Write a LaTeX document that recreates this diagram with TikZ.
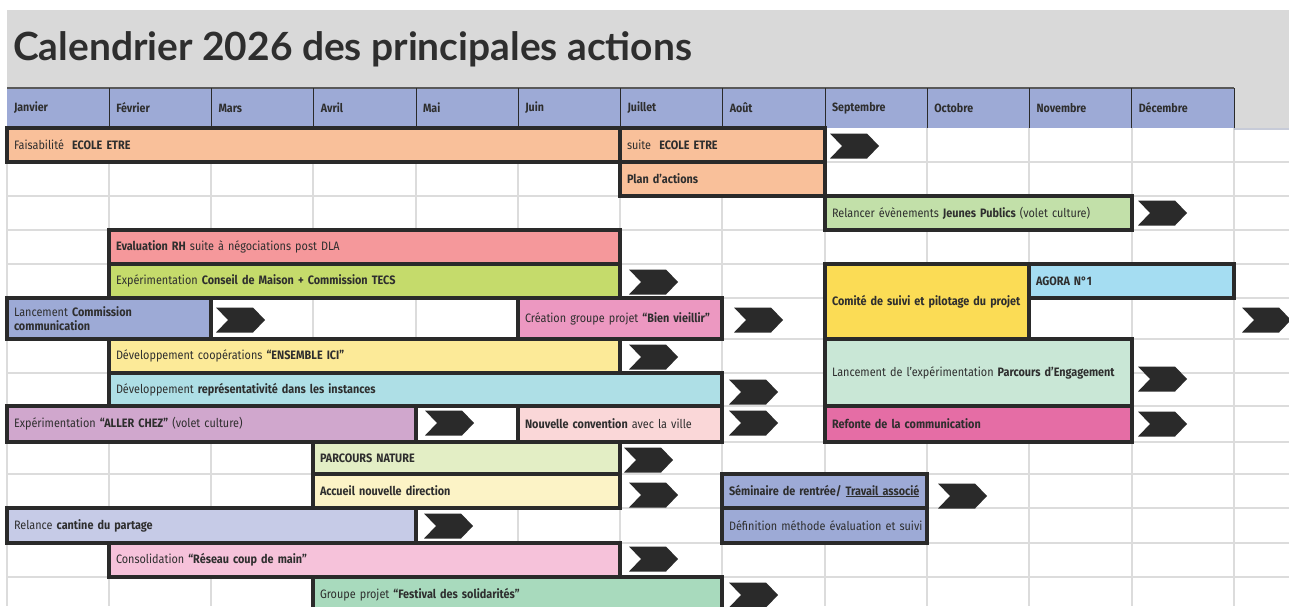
\documentclass[tikz,border=0pt]{standalone}
\usepackage{fontspec}
\setmainfont{Fira Sans}[FakeStretch=0.89]
\newfontfamily\titlefont{Lato}
\definecolor{bordc}{HTML}{2A2A2A}
\definecolor{txtc}{HTML}{2E2E2E}
\definecolor{gridc}{HTML}{DCDCDC}
\definecolor{bandc}{HTML}{D9D9D9}
\definecolor{hdrc}{HTML}{9DAAD6}
\definecolor{cpeach}{HTML}{F9C09A}
\definecolor{clgreen}{HTML}{C2E0A9}
\definecolor{csalmon}{HTML}{F5989B}
\definecolor{clime}{HTML}{C5DB6B}
\definecolor{clav}{HTML}{9DAAD6}
\definecolor{cpinkbv}{HTML}{EC98C1}
\definecolor{cyellow}{HTML}{FBDC55}
\definecolor{cagora}{HTML}{A5DDF2}
\definecolor{clyellow}{HTML}{FCEA98}
\definecolor{ccyan}{HTML}{AEDFE6}
\definecolor{cmint}{HTML}{C9E7D6}
\definecolor{cmauve}{HTML}{D0A7CD}
\definecolor{clpink}{HTML}{FAD7D8}
\definecolor{chot}{HTML}{E56DA5}
\definecolor{cpgreen}{HTML}{E3EEC5}
\definecolor{ccream}{HTML}{FCF3C6}
\definecolor{cllav}{HTML}{C6CBE7}
\definecolor{cpinkc}{HTML}{F6C2DA}
\definecolor{cfest}{HTML}{A8DABD}
\newcommand\gbar[7]{%
  \pgfmathsetmacro\gbW{#4-#2}\pgfmathsetmacro\gbH{#5-#3}\pgfmathsetmacro\gbT{#4-#2-14}%
  \node[barbox, fill=#6, minimum width=\gbW pt, minimum height=\gbH pt, text width=\gbT pt] (#1) at (#2,#3) {#7};}
\tikzset{
  barbox/.style={draw=bordc, line width=3.6pt, anchor=north west, outer sep=0pt, inner xsep=7pt, inner ysep=0pt, align=left, text=txtc, font=\fontsize{12.2}{14}\selectfont},
  hdr/.style={fill=hdrc, anchor=north west, outer sep=0pt, inner xsep=7pt, inner ysep=0pt, minimum width=102.25pt, minimum height=40pt, text width=88.25pt, align=left, text=txtc, font=\fontsize{12}{13}\selectfont\bfseries},
  gridline/.style={draw=gridc, line width=1.3pt},
  chv/.pic={\fill[bordc] (0,-12.5) -- (37,-12.5) -- (49,0) -- (37,12.5) -- (0,12.5) -- (12,0) -- cycle;}
}
\begin{document}
\begin{tikzpicture}[x=1pt,y=-1pt]
\useasboundingbox (0,0) rectangle (1289,606);
\fill[white] (0,0) rectangle (1289,606);
% title band
\fill[bandc] (7,10) rectangle (1289,128);
\node[anchor=base west, inner sep=0pt, text=txtc, font=\titlefont\fontsize{38.9}{42}\selectfont\bfseries] (title) at (13,60) {Calendrier 2026 des principales actions};
% grid
\foreach \gx in {7,109,211,313,416,518,620,722,825,927,1029,1132,1234}
  \draw[gridline] (\gx,128) -- (\gx,606);
\foreach \gy in {162,196,230,264,298,339,373,406,442,474,508,543,577}
  \draw[gridline] (7,\gy) -- (1289,\gy);
\draw[draw=hdrc!60!gray, line width=2pt, opacity=0.5] (1234,129) -- (1289,129);
% header
\node[hdr] (m1) at (7,88) {Janvier};
\node[hdr] (m2) at (109.25,88) {Février};
\node[hdr] (m3) at (211.5,88) {Mars};
\node[hdr] (m4) at (313.75,88) {Avril};
\node[hdr] (m5) at (416,88) {Mai};
\node[hdr] (m6) at (518.25,88) {Juin};
\node[hdr] (m7) at (620.5,88) {Juillet};
\node[hdr] (m8) at (722.75,88) {Août};
\node[hdr] (m9) at (825,88) {Septembre};
\node[hdr] (m10) at (927.25,88) {Octobre};
\node[hdr] (m11) at (1029.5,88) {Novembre};
\node[hdr] (m12) at (1131.75,88) {Décembre};
\draw[draw=gray!70!black, line width=1.5pt] (m1.north west) -- (m12.north east);
\foreach \m in {1,...,12}
  \draw[draw=bordc, line width=1pt] (m\m.north east) -- (m\m.south east);
% bars
\gbar{b1}{7}{128}{620}{162}{cpeach}{Faisabilité\ \ \textbf{ECOLE ETRE}}
\gbar{b2}{620}{128}{825}{162}{cpeach}{suite\ \ \textbf{ECOLE ETRE}}
\gbar{b3}{620}{162}{825}{196}{cpeach}{\textbf{Plan d’actions}}
\gbar{b4}{825}{196}{1132}{230}{clgreen}{Relancer évènements \textbf{Jeunes Publics} (volet culture)}
\gbar{b5}{109}{230}{620}{264}{csalmon}{\textbf{Evaluation RH} suite à négociations post DLA}
\gbar{b6}{109}{264}{620}{298}{clime}{Expérimentation \textbf{Conseil de Maison + Commission TECS}}
\gbar{b7}{7}{298}{211}{339}{clav}{Lancement \textbf{Commission}\\\textbf{communication}}
\gbar{b8}{518}{298}{722}{339}{cpinkbv}{Création groupe projet \textbf{“Bien vieillir”}}
\gbar{b9}{825}{264}{1029}{339}{cyellow}{\textbf{Comité de suivi et pilotage du projet}}
\gbar{b10}{1029}{264}{1234}{298}{cagora}{\textbf{AGORA N°1}}
\gbar{b11}{109}{339}{620}{373}{clyellow}{Développement coopérations \textbf{“ENSEMBLE ICI”}}
\gbar{b12}{109}{373}{722}{406}{ccyan}{Développement \textbf{représentativité dans les instances}}
\gbar{b13}{825}{339}{1132}{406}{cmint}{Lancement de l’expérimentation \textbf{Parcours d’Engagement}}
\gbar{b14}{7}{406}{416}{442}{cmauve}{Expérimentation \textbf{“ALLER CHEZ”} (volet culture)}
\gbar{b15}{518}{406}{722}{442}{clpink}{\textbf{Nouvelle convention} avec la ville}
\gbar{b16}{825}{406}{1132}{442}{chot}{\textbf{Refonte de la communication}}
\gbar{b17}{313}{442}{620}{474}{cpgreen}{\textbf{PARCOURS NATURE}}
\gbar{b18}{313}{474}{620}{508}{ccream}{\textbf{Accueil nouvelle direction}}
\gbar{b19}{722}{474}{927}{508}{clav}{\textbf{Séminaire de rentrée/ \underline{Travail associé}}}
\gbar{b20}{722}{508}{927}{543}{clav}{\mbox{Définition méthode évaluation et suivi}}
\gbar{b21}{7}{508}{416}{543}{cllav}{Relance \textbf{cantine du partage}}
\gbar{b22}{109}{543}{620}{577}{cpinkc}{Consolidation \textbf{“Réseau coup de main”}}
\gbar{b23}{313}{577}{722}{612}{cfest}{Groupe projet \textbf{“Festival des solidarités”}}
% chevrons
\pic at (830,146) {chv};
\pic at (1138,213) {chv};
\pic at (629,282) {chv};
\pic at (216,320) {chv};
\pic at (734,320) {chv};
\pic at (1242,320) {chv};
\pic at (629,357) {chv};
\pic at (729,392) {chv};
\pic at (1138,379) {chv};
\pic at (425,423) {chv};
\pic at (729,423) {chv};
\pic at (1138,424) {chv};
\pic at (624,460) {chv};
\pic at (629,495) {chv};
\pic at (938,496) {chv};
\pic at (424,526) {chv};
\pic at (629,559) {chv};
\pic at (729,595) {chv};
\end{tikzpicture}
\end{document}
